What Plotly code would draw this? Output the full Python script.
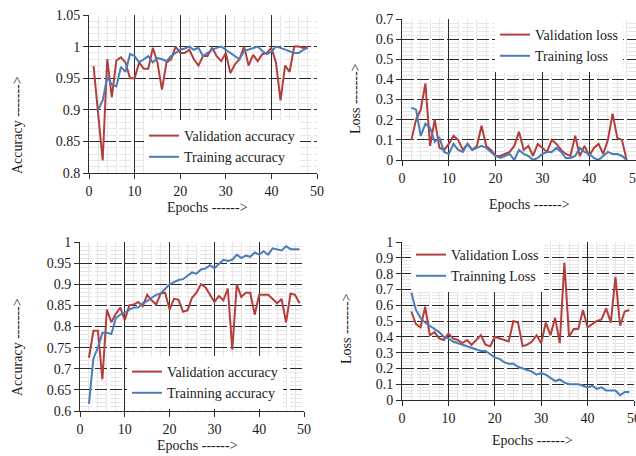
import plotly.graph_objects as go

W, H = 636, 456

# ---------------- data ----------------
# Panel 1 (top-left): accuracy
ep1_val = list(range(1, 49))
val_acc1 = [0.969, 0.895, 0.82, 0.98, 0.92, 0.978, 0.983, 0.975, 0.95, 0.95,
            0.975, 0.965, 0.965, 0.998, 0.975, 0.932, 0.975, 0.98, 1.0, 0.99,
            0.99, 0.995, 0.98, 0.97, 0.985, 0.985, 0.998, 0.985, 0.977, 0.99,
            0.958, 0.972, 0.98, 1.0, 0.97, 0.987, 0.977, 0.988, 0.99, 0.998,
            0.975, 0.915, 0.97, 0.96, 1.0, 1.0, 0.998, 1.0]
ep1_tr = list(range(2, 49))
tr_acc1 = [0.9, 0.915, 0.952, 0.94, 0.937, 0.968, 0.96, 0.988, 0.985, 0.975,
           0.98, 0.985, 0.975, 0.982, 0.98, 0.977, 0.985, 0.99, 0.995, 0.997,
           1.0, 0.995, 0.998, 0.985, 0.99, 0.995, 0.998, 1.0, 0.995, 0.99,
           0.985, 0.98, 0.993, 0.995, 0.997, 1.0, 0.993, 0.988, 0.992, 1.0,
           0.998, 0.995, 0.992, 0.99, 0.99, 0.995, 0.998]

# Panel 2 (top-right): loss
ep2 = list(range(2, 49))
val_loss2 = [0.1, 0.2, 0.25, 0.38, 0.07, 0.2, 0.06, 0.05, 0.08, 0.12,
             0.1, 0.05, 0.08, 0.05, 0.07, 0.17, 0.07, 0.05, 0.02, 0.02,
             0.03, 0.04, 0.07, 0.14, 0.05, 0.07, 0.02, 0.08, 0.06, 0.04,
             0.1, 0.08, 0.05, 0.03, 0.02, 0.12, 0.02, 0.07, 0.02, 0.06,
             0.08, 0.03, 0.1, 0.23, 0.11, 0.1, 0.0]
tr_loss2 = [0.26, 0.25, 0.12, 0.18, 0.16, 0.09, 0.11, 0.04, 0.03, 0.08,
            0.05, 0.04, 0.08, 0.05, 0.06, 0.07, 0.06, 0.04, 0.02, 0.01,
            0.02, 0.03, 0.0, 0.05, 0.03, 0.02, 0.0, 0.01, 0.03, 0.04,
            0.04, 0.06, 0.04, 0.01, 0.01, 0.02, 0.06, 0.04, 0.03, 0.01,
            0.0, 0.02, 0.04, 0.03, 0.03, 0.02, 0.0]

# Panel 3 (bottom-left): accuracy
ep3 = list(range(2, 50))
val_acc3 = [0.726, 0.79, 0.79, 0.675, 0.84, 0.81, 0.83, 0.845, 0.815, 0.85,
            0.852, 0.858, 0.848, 0.875, 0.862, 0.852, 0.878, 0.88, 0.84, 0.866,
            0.863, 0.835, 0.838, 0.868, 0.88, 0.9, 0.893, 0.875, 0.858, 0.872,
            0.862, 0.89, 0.745, 0.9, 0.87, 0.88, 0.88, 0.828, 0.875, 0.875,
            0.875, 0.865, 0.855, 0.865, 0.81, 0.878, 0.875, 0.855]
tr_acc3 = [0.617, 0.725, 0.75, 0.785, 0.785, 0.782, 0.82, 0.828, 0.832, 0.84,
           0.845, 0.845, 0.855, 0.86, 0.868, 0.875, 0.878, 0.89, 0.9, 0.905,
           0.91, 0.912, 0.92, 0.928, 0.925, 0.935, 0.937, 0.945, 0.938, 0.948,
           0.958, 0.955, 0.958, 0.97, 0.962, 0.968, 0.965, 0.975, 0.97, 0.978,
           0.97, 0.985, 0.982, 0.98, 0.99, 0.983, 0.983, 0.983]

# Panel 4 (bottom-right): loss
ep4 = list(range(2, 50))
val_loss4 = [0.56, 0.48, 0.46, 0.59, 0.41, 0.43, 0.39, 0.38, 0.42, 0.39,
             0.38, 0.36, 0.38, 0.35, 0.38, 0.41, 0.35, 0.34, 0.4, 0.39,
             0.38, 0.37, 0.5, 0.49, 0.34, 0.35, 0.37, 0.41, 0.36, 0.49,
             0.41, 0.52, 0.36, 0.87, 0.4, 0.45, 0.45, 0.57, 0.46, 0.48,
             0.5, 0.51, 0.58, 0.49, 0.78, 0.47, 0.56, 0.57]
tr_loss4 = [0.68, 0.57, 0.52, 0.49, 0.47, 0.45, 0.43, 0.4, 0.39, 0.37,
            0.36, 0.35, 0.34, 0.33, 0.32, 0.31, 0.31, 0.29, 0.27, 0.26,
            0.24, 0.23, 0.23, 0.21, 0.2, 0.19, 0.18, 0.16, 0.17, 0.16,
            0.14, 0.12, 0.13, 0.11, 0.1, 0.1, 0.1, 0.09, 0.08, 0.09,
            0.07, 0.08, 0.06, 0.06, 0.06, 0.03, 0.05, 0.05]

names1 = ["Validation accuracy", "Training accuracy"]
names2 = ["Validation loss", "Training loss"]
names3 = ["Validation accuracy", "Trainning accuracy"]
names4 = ["Validation Loss", "Trainning Loss"]

RED = "#B33F3D"
BLUE = "#4A7DB8"
FONT = "Liberation Serif"
INK = "#1a1a1a"


def fx(px):
    return px / W


def fy(py):
    return 1 - py / H


fig = go.Figure()

panels = [
    (ep1_val, val_acc1, ep1_tr, tr_acc1, names1, "x", "y", "legend"),
    (ep2, val_loss2, ep2, tr_loss2, names2, "x2", "y2", "legend2"),
    (ep3, val_acc3, ep3, tr_acc3, names3, "x3", "y3", "legend3"),
    (ep4, val_loss4, ep4, tr_loss4, names4, "x4", "y4", "legend4"),
]
for exv, yv, ext, yt, nm, xa, ya, lg in panels:
    fig.add_trace(go.Scatter(x=exv, y=yv, mode="lines", name=nm[0],
                             line=dict(color=RED, width=2), xaxis=xa, yaxis=ya, legend=lg))
    fig.add_trace(go.Scatter(x=ext, y=yt, mode="lines", name=nm[1],
                             line=dict(color=BLUE, width=2), xaxis=xa, yaxis=ya, legend=lg))


def xaxis(dom, anchor):
    return dict(domain=dom, anchor=anchor, range=[0, 50], tick0=0, dtick=10,
                showgrid=True, gridcolor="#2a2a2a", gridwidth=1,
                minor=dict(dtick=2, showgrid=True, gridcolor="#e6e6e6", gridwidth=1),
                ticks="outside", ticklen=5, tickcolor="#2a2a2a",
                showline=True, linecolor="#2a2a2a", linewidth=1, zeroline=False,
                ticklabeloverflow="allow", automargin=False,
                tickfont=dict(family=FONT, size=14, color=INK))


def yaxis(dom, anchor, rng, dt, mdt):
    return dict(domain=dom, anchor=anchor, range=rng, tick0=rng[0], dtick=dt,
                showgrid=True, gridcolor="#2a2a2a", gridwidth=1, griddash="12px,3px",
                minor=dict(dtick=mdt, showgrid=True, gridcolor="#e6e6e6", gridwidth=1),
                ticks="outside", ticklen=5, tickcolor="#2a2a2a",
                showline=True, linecolor="#2a2a2a", linewidth=1, zeroline=False,
                ticklabeloverflow="allow", automargin=False,
                tickfont=dict(family=FONT, size=14, color=INK))


legfont = dict(family=FONT, size=14, color=INK)


def legend(xp, yp):
    return dict(x=fx(xp), y=fy(yp), xanchor="left", yanchor="top",
                bgcolor="white", borderwidth=0, font=legfont,
                itemwidth=30, tracegroupgap=0)


fig.update_layout(
    width=W, height=H, autosize=False,
    margin=dict(l=0, r=0, t=0, b=0, pad=0, autoexpand=False),
    paper_bgcolor="white", plot_bgcolor="white",
    showlegend=True,
    xaxis=xaxis([fx(89), fx(317)], "y"),
    yaxis=yaxis([fy(173), fy(15)], "x", [0.8, 1.05], 0.05, 0.01),
    xaxis2=xaxis([fx(402), 1.0], "y2"),
    yaxis2=yaxis([fy(160), fy(19)], "x2", [0, 0.7], 0.1, 0.02),
    xaxis3=xaxis([fx(80), fx(304)], "y3"),
    yaxis3=yaxis([fy(411), fy(242)], "x3", [0.6, 1.0], 0.05, 0.01),
    xaxis4=xaxis([fx(402), fx(634)], "y4"),
    yaxis4=yaxis([fy(400), fy(242)], "x4", [0, 1.0], 0.1, 0.02),
    legend=legend(144, 120),
    legend2=legend(495, 19),
    legend3=legend(127, 356),
    legend4=legend(411, 239),
)

titles = [
    ("Accuracy ------->", 17, 125, -90),
    ("Epochs ------>", 207, 207, 0),
    ("Loss ------->", 356, 99, -90),
    ("Epochs ------>", 529, 204, 0),
    ("Accuracy ------->", 17, 347, -90),
    ("Epochs ------>", 197, 445, 0),
    ("Loss ------->", 346, 329, -90),
    ("Epochs ------>", 532, 440, 0),
]
for txt, x, y, ang in titles:
    fig.add_annotation(text=txt, x=fx(x), y=fy(y), xref="paper", yref="paper",
                       xanchor="center", yanchor="middle", showarrow=False,
                       textangle=ang, font=dict(family=FONT, size=14, color=INK))

fig.write_html("out.html", config={"displayModeBar": False},
               post_script="document.body.style.margin='0';document.body.style.overflow='hidden';")
